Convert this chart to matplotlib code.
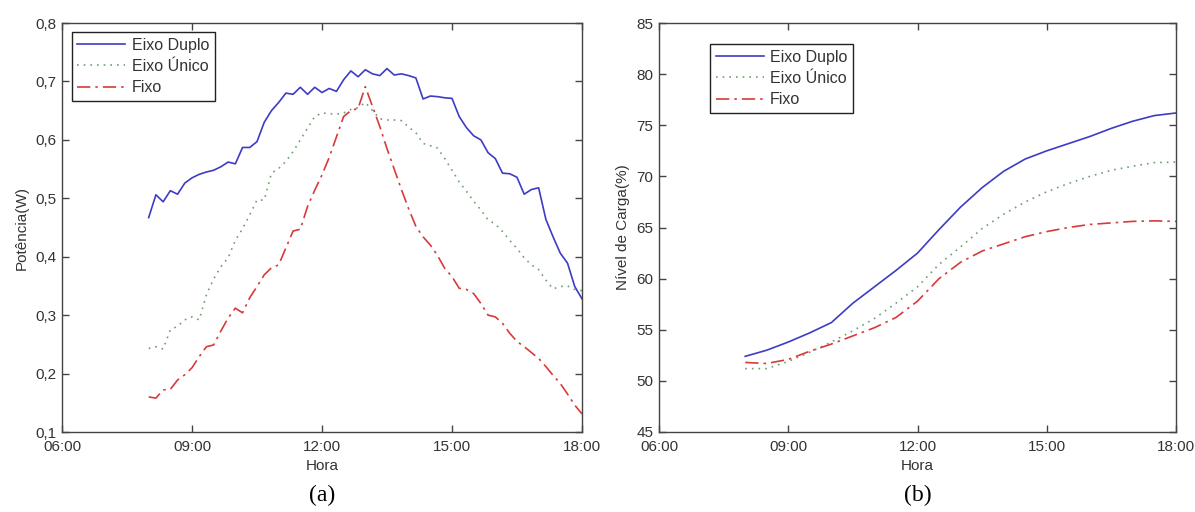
import numpy as np
import matplotlib
matplotlib.use('Agg')
import matplotlib.pyplot as plt

### dados ###
# (a) potencia, amostras a cada 10 min entre 08:00 e 18:00
minutos_a = np.arange(8*60, 18*60 + 1, 10)
duplo_a = [0.467, 0.506, 0.494, 0.513, 0.507, 0.526,
           0.535, 0.541, 0.545, 0.548, 0.554, 0.562,
           0.559, 0.587, 0.587, 0.597, 0.630, 0.650,
           0.664, 0.680, 0.678, 0.690, 0.678, 0.690,
           0.681, 0.688, 0.683, 0.703, 0.718, 0.708,
           0.720, 0.713, 0.710, 0.722, 0.711, 0.713,
           0.710, 0.706, 0.670, 0.675, 0.674, 0.672,
           0.671, 0.640, 0.621, 0.607, 0.600, 0.578,
           0.568, 0.543, 0.542, 0.536, 0.507, 0.515,
           0.518, 0.464, 0.434, 0.406, 0.389, 0.349,
           0.328]
unico_a = [0.243, 0.246, 0.242, 0.275, 0.281, 0.292,
           0.297, 0.292, 0.335, 0.362, 0.383, 0.398,
           0.428, 0.448, 0.472, 0.497, 0.497, 0.543,
           0.551, 0.563, 0.580, 0.600, 0.620, 0.640,
           0.646, 0.645, 0.644, 0.646, 0.652, 0.655,
           0.664, 0.650, 0.636, 0.634, 0.634, 0.633,
           0.622, 0.612, 0.594, 0.590, 0.586, 0.568,
           0.548, 0.528, 0.512, 0.495, 0.480, 0.463,
           0.456, 0.443, 0.428, 0.414, 0.398, 0.386,
           0.378, 0.360, 0.345, 0.349, 0.350, 0.344,
           0.342]
fixo_a = [0.160, 0.158, 0.172, 0.173, 0.189, 0.198,
          0.210, 0.229, 0.246, 0.249, 0.273, 0.295,
          0.312, 0.304, 0.330, 0.349, 0.369, 0.381,
          0.386, 0.415, 0.444, 0.447, 0.486, 0.514,
          0.540, 0.570, 0.605, 0.640, 0.650, 0.654,
          0.691, 0.657, 0.623, 0.585, 0.550, 0.515,
          0.482, 0.452, 0.434, 0.420, 0.402, 0.380,
          0.366, 0.346, 0.344, 0.337, 0.320, 0.300,
          0.297, 0.286, 0.269, 0.255, 0.246, 0.236,
          0.226, 0.212, 0.197, 0.183, 0.165, 0.146,
          0.131]

# (b) nivel de carga, a cada 30 min
minutos_b = np.arange(8*60, 18*60 + 1, 30)
duplo_b = [52.4, 53.0, 53.8, 54.7, 55.7, 57.6, 59.2, 60.8, 62.5, 64.8, 67.0,
           68.9, 70.5, 71.7, 72.5, 73.2, 73.9, 74.7, 75.4, 75.95, 76.2]
unico_b = [51.2, 51.2, 51.9, 52.8, 53.8, 54.9, 56.1, 57.6, 59.2, 61.4, 63.1,
           64.9, 66.3, 67.5, 68.5, 69.3, 70.0, 70.6, 71.0, 71.35, 71.4]
fixo_b = [51.8, 51.7, 52.1, 52.9, 53.6, 54.4, 55.2, 56.2, 57.8, 60.0, 61.6,
          62.7, 63.4, 64.1, 64.6, 65.0, 65.3, 65.45, 65.6, 65.65, 65.6]

xticks = [6, 9, 12, 15, 18]
xlabels = ['06:00', '09:00', '12:00', '15:00', '18:00']
yticks_a = [0.1, 0.2, 0.3, 0.4, 0.5, 0.6, 0.7, 0.8]
yticks_b = [45, 50, 55, 60, 65, 70, 75, 80, 85]
nomes = ['Eixo Duplo', 'Eixo Único', 'Fixo']

cor_azul = '#3c3cc4'
cor_verde = '#6f9f6f'
cor_verm = '#d83a3a'
cor_txt = '#333333'

plt.rcParams['font.family'] = ['Liberation Sans', 'DejaVu Sans']

fig = plt.figure(figsize=(11.95, 5.12), dpi=100)
ax1 = fig.add_axes([0.0519, 0.15625, 0.4351, 0.7988])
ax2 = fig.add_axes([0.5515, 0.15625, 0.4326, 0.7988])


def estilo(ax, yt, ylab, fmt):
    ax.set_xlim(6, 18)
    ax.set_xticks(xticks)
    ax.set_xticklabels(xlabels)
    ax.set_ylim(yt[0], yt[-1])
    ax.set_yticks(yt)
    ax.set_yticklabels([fmt(v) for v in yt])
    ax.tick_params(direction='in', length=5, width=1, color='#444444',
                   top=True, right=True, labelsize=11, labelcolor=cor_txt)
    ax.tick_params(axis='x', pad=6)
    ax.tick_params(axis='y', pad=4)
    for s in ax.spines.values():
        s.set_color('#444444')
        s.set_linewidth(1)
    ax.set_xlabel('Hora', fontsize=11, color=cor_txt, labelpad=3)
    ax.set_ylabel(ylab, fontsize=11, color=cor_txt, labelpad=5)


def curvas(ax, x, d, u, f):
    ax.plot(x, d, color=cor_azul, lw=1.2, label=nomes[0])
    ax.plot(x, u, color=cor_verde, lw=1.2, linestyle=(0, (1, 3)), label=nomes[1])
    ax.plot(x, f, color=cor_verm, lw=1.2, linestyle=(0, (8, 3, 1.5, 3)), label=nomes[2])


curvas(ax1, minutos_a / 60, duplo_a, unico_a, fixo_a)
curvas(ax2, minutos_b / 60, duplo_b, unico_b, fixo_b)

estilo(ax1, yticks_a, 'Potência(W)', lambda v: ('%.1f' % v).replace('.', ','))
estilo(ax2, yticks_b, 'Nível de Carga(%)', lambda v: '%d' % v)

for ax, anc in [(ax1, (0.019, 0.978)), (ax2, (0.0986, 0.9487))]:
    leg = ax.legend(loc='upper left', bbox_to_anchor=anc, fontsize=11.5,
                    fancybox=False, framealpha=1, edgecolor='#222222',
                    handlelength=3.0, handletextpad=0.4, labelspacing=0.4,
                    borderpad=0.35, borderaxespad=0)
    leg.get_frame().set_linewidth(1)
    for t in leg.get_texts():
        t.set_color(cor_txt)

fig.text(0.2695, 0.033, '(a)', ha='center', va='center', fontsize=17,
         family='Liberation Serif')
fig.text(0.768, 0.033, '(b)', ha='center', va='center', fontsize=17,
         family='Liberation Serif')

fig.savefig('out.png', dpi=100)
